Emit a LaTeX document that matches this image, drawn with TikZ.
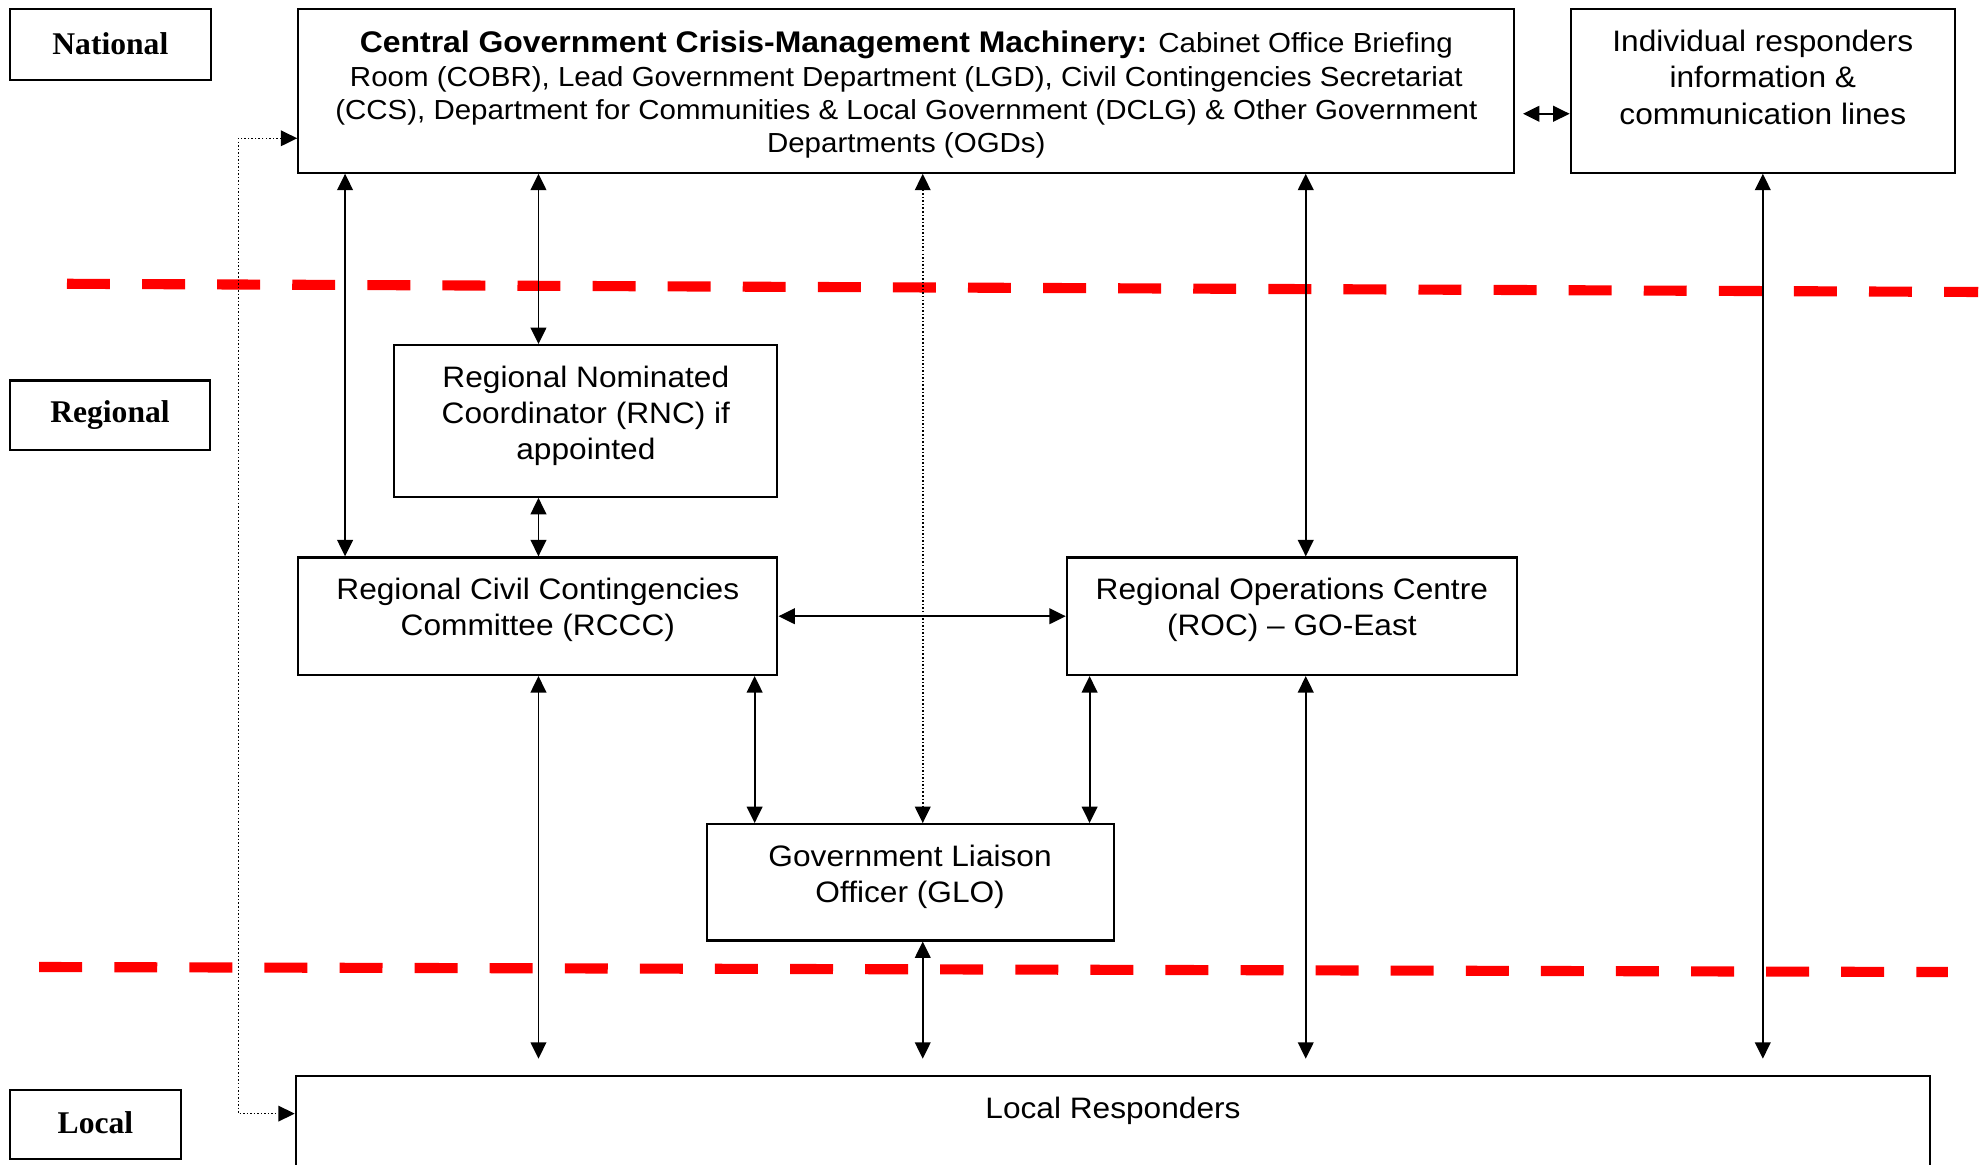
\documentclass[tikz,border=0pt]{standalone}
\usepackage{fontspec}
\setmainfont{Liberation Sans}[FakeStretch=1.07]
\newfontfamily\lvlfont{Liberation Serif}
\usetikzlibrary{arrows.meta}
\begin{document}
\begin{tikzpicture}[x=0.5pt,y=-0.5pt,
  box/.style={draw, line width=0.85pt, rectangle, inner sep=0pt},
  lvl/.style={box, font=\lvlfont\bfseries\fontsize{12.5}{14.5}\selectfont},
  lvltxt/.style={yshift=1.2pt},
  txt/.style={font=\fontsize{11.7}{14.3}\selectfont, align=center, inner sep=0pt, anchor=north, yshift=-8.5pt},
  ctxt/.style={font=\fontsize{10.9}{13.2}\selectfont, align=center, inner sep=0pt, anchor=north, yshift=-8.8pt},
  arr/.style={line width=0.75pt, {Triangle[length=6.5pt,width=6.2pt]}-{Triangle[length=6.5pt,width=6.2pt]}},
  dotarr/.style={line width=0.6pt, dash pattern=on 0.6pt off 0.8pt, {Triangle[length=6.5pt,width=6.2pt]}-{Triangle[length=6.5pt,width=6.2pt]}},
  reddash/.style={draw=red, line width=4pt, dash pattern=on 17pt off 12.7pt},
]
\useasboundingbox (0,0) rectangle (1568,921);

% level labels
\node[lvl, minimum width=79.4pt, minimum height=28pt] (national) at (87.3,35.3) {\raisebox{1.2pt}{National}};
\node[lvl, minimum width=79pt, minimum height=27.5pt] (regional) at (87,328.5) {\raisebox{1pt}{Regional}};
\node[lvl, minimum width=67.5pt, minimum height=27.5pt] (locallbl) at (75.5,889.5) {\raisebox{1.2pt}{Local}};

% red level separators
\coordinate (r1a) at (53,224.5);
\coordinate (r1b) at (1565,231);
\coordinate (r2a) at (31,765);
\coordinate (r2b) at (1541,769);
\draw[reddash] (r1a) -- (r1b);
\draw[reddash] (r2a) -- (r2b);

% boxes
\node[box, minimum width=481pt, minimum height=64.6pt,
  label={[ctxt]north:{\fontsize{11.8}{13.2}\selectfont\textbf{Central Government Crisis-Management Machinery:}} Cabinet Office Briefing\\Room (COBR), Lead Government Department (LGD), Civil Contingencies Secretariat\\(CCS), Department for Communities \& Local Government (DCLG) \& Other Government\\Departments (OGDs)}]
  (central) at (717,72) {};
\node[box, minimum width=152pt, minimum height=64.6pt,
  label={[txt]north:Individual responders\\information \&\\communication lines}]
  (indiv) at (1394.6,72) {};
\node[box, minimum width=151.5pt, minimum height=60pt,
  label={[txt]north:Regional Nominated\\Coordinator (RNC) if\\appointed}]
  (rnc) at (463.5,333) {};
\node[box, minimum width=189.5pt, minimum height=46.5pt,
  label={[txt]north:Regional Civil Contingencies\\Committee (RCCC)}]
  (rccc) at (425.5,487.5) {};
\node[box, minimum width=178pt, minimum height=46.5pt,
  label={[txt]north:Regional Operations Centre\\(ROC) – GO-East}]
  (roc) at (1022,487.5) {};
\node[box, minimum width=161pt, minimum height=46pt,
  label={[txt]north:Government Liaison\\Officer (GLO)}]
  (glo) at (720,698) {};
\node[box, minimum width=646.5pt, minimum height=54.5pt,
  label={[txt]north:Local Responders}]
  (localresp) at (880.5,905.5) {};

% connectors: national level
\draw[arr, shorten <=3pt] (central.east |- 0,90) -- (indiv.west |- 0,90);
\draw[arr] (central.south -| 273,0) -- (rccc.north -| 273,0);
\draw[arr] (central.south -| 426,0) -- (rnc.north -| 426,0);
\draw[arr] (rnc.south -| 426,0) -- (rccc.north -| 426,0);
\draw[dotarr] (central.south -| 730,0) -- (glo.north -| 730,0);
\draw[arr] (central.south -| 1033,0) -- (roc.north -| 1033,0);
\draw[arr, shorten >=6.3pt] (indiv.south) -- (localresp.north -| indiv.south);

% regional
\draw[arr] (rccc.east) -- (roc.west);
\draw[arr] (rccc.south -| 597,0) -- (glo.north -| 597,0);
\draw[arr] (roc.south -| 862,0) -- (glo.north -| 862,0);

% to local
\draw[arr, shorten >=6.3pt] (rccc.south -| 426,0) -- (localresp.north -| 426,0);
\draw[arr, shorten >=6.3pt] (glo.south -| 730,0) -- (localresp.north -| 730,0);
\draw[arr, shorten >=6.3pt] (roc.south -| 1033,0) -- (localresp.north -| 1033,0);

% dotted side link
\coordinate (dtop) at (188.6,109.4);
\coordinate (dbot) at (188.6,881);
\draw[dotarr] (central.west |- dtop) -- (dtop) -- (dbot) -- (localresp.west |- dbot);
\end{tikzpicture}
\end{document}
